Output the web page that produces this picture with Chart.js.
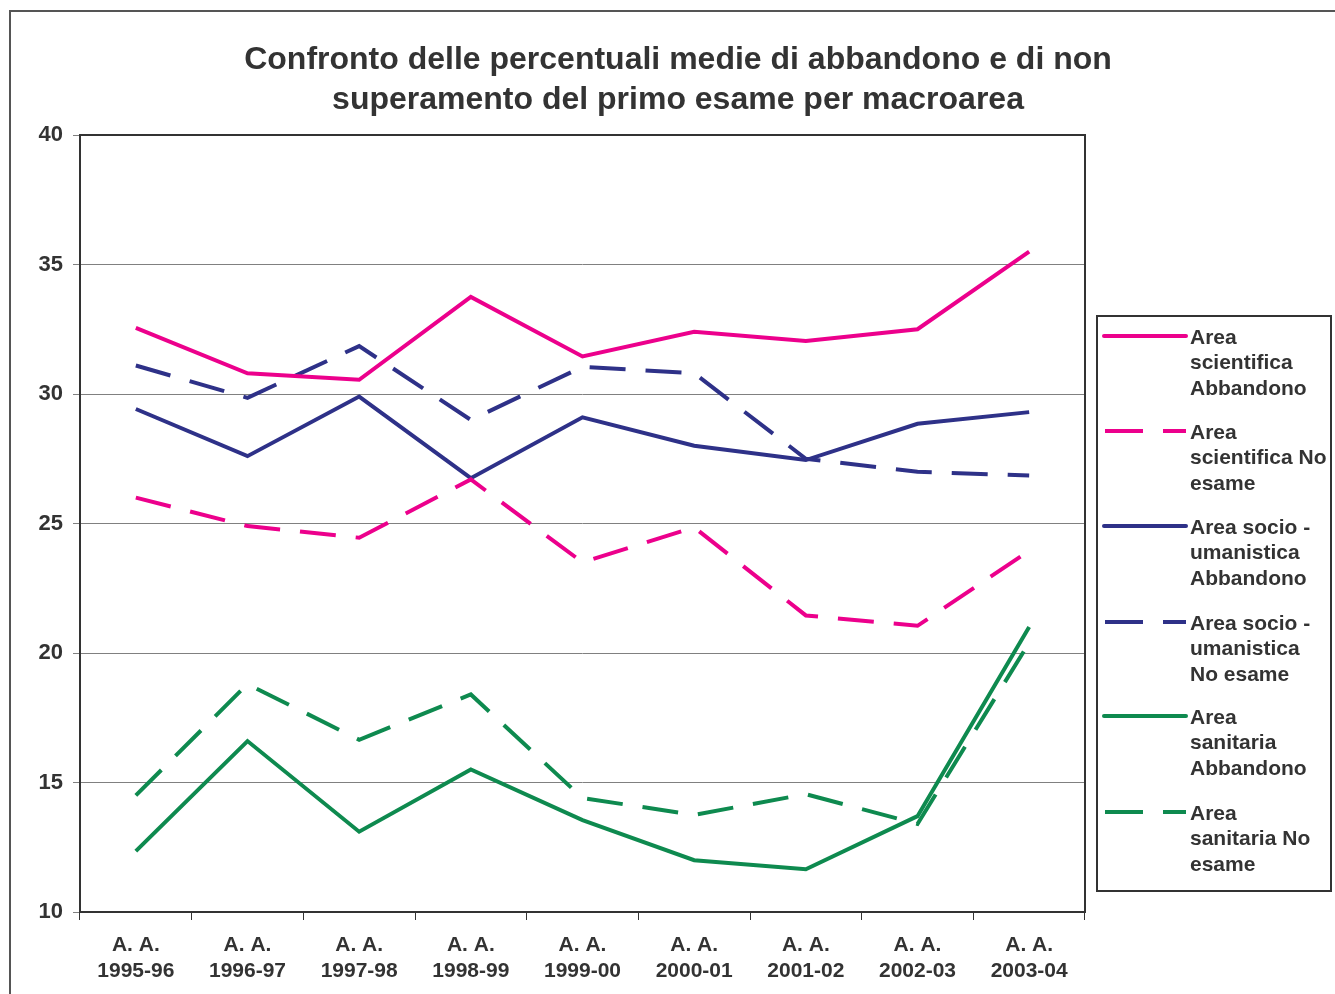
<!DOCTYPE html>
<html><head><meta charset="utf-8">
<script src="https://cdn.jsdelivr.net/npm/chart.js@4.4.1/dist/chart.umd.min.js"></script>
<style>
html,body{margin:0;padding:0;background:#fff;}
#wrap{position:relative;width:1335px;height:994px;}
#frame{position:absolute;left:9px;top:10px;width:1340px;height:1000px;border-top:2px solid #555;border-left:2px solid #555;}
canvas{position:absolute;left:0;top:0;}
</style></head><body>
<div id="wrap"><div id="frame"></div><canvas id="c" width="1335" height="994"></canvas></div>
<script>
const titleLines = ['Confronto delle percentuali medie di abbandono e di non', 'superamento del primo esame per macroarea'];
const categories = [['A. A.','1995-96'],['A. A.','1996-97'],['A. A.','1997-98'],['A. A.','1998-99'],['A. A.','1999-00'],['A. A.','2000-01'],['A. A.','2001-02'],['A. A.','2002-03'],['A. A.','2003-04']];
const seriesNames = [['Area','scientifica','Abbandono'],['Area','scientifica No','esame'],['Area socio -','umanistica','Abbandono'],['Area socio -','umanistica','No esame'],['Area','sanitaria','Abbandono'],['Area','sanitaria No','esame']];
const scientificaAbbandono = [32.55, 30.8, 30.55, 33.75, 31.45, 32.4, 32.05, 32.5, 35.5];
const scientificaNoEsame   = [26.0, 24.9, 24.45, 26.7, 23.5, 24.85, 21.45, 21.05, 23.95];
const socioAbbandono       = [29.42, 27.6, 29.9, 26.75, 29.1, 28.0, 27.45, 28.85, 29.3];
const socioNoEsame         = [31.1, 29.85, 31.85, 29.0, 31.05, 30.8, 27.5, 27.0, 26.85];
const sanitariaAbbandono   = [12.35, 16.6, 13.1, 15.5, 13.55, 12.0, 11.65, 13.7, 21.0];
const sanitariaNoEsame     = [14.5, 18.8, 16.65, 18.4, 14.4, 13.75, 14.55, 13.4, 20.4];
const yMin = 10, yMax = 40, yStep = 5;

const PINK = '#EC008C', NAVY = '#2E3188', GREEN = '#0E8A4F', TXT = '#333333';
const FONT = '"Liberation Sans", Arial, sans-serif';
const DASH = [36, 20];

function ds(label, data, color, dashed) {
  return { label, data, borderColor: color, backgroundColor: color, borderWidth: 4,
    borderDash: dashed ? DASH : [], pointRadius: 0, tension: 0, fill: false };
}

const titlePlugin = {
  id: 'titleDraw',
  afterDraw(chart) {
    const ctx = chart.ctx;
    ctx.save();
    ctx.fillStyle = TXT;
    ctx.font = 'bold 32px ' + FONT;
    ctx.textAlign = 'center';
    ctx.textBaseline = 'middle';
    ctx.fillText(titleLines[0], 678, 60);
    ctx.fillText(titleLines[1], 678, 100);
    ctx.restore();
  }
};

const legendPlugin = {
  id: 'legendDraw',
  afterDraw(chart) {
    const ctx = chart.ctx;
    ctx.save();
    ctx.strokeStyle = '#333';
    ctx.lineWidth = 2;
    ctx.strokeRect(1097, 316, 234, 575);
    const ys = [336, 431, 526, 622, 716, 812];
    chart.data.datasets.forEach((d, i) => {
      const y = ys[i];
      ctx.beginPath();
      ctx.strokeStyle = d.borderColor;
      ctx.lineWidth = 4;
      ctx.lineCap = d.borderDash.length ? 'butt' : 'round';
      ctx.setLineDash(d.borderDash.length ? [38, 20] : []);
      ctx.moveTo(d.borderDash.length ? 1105 : 1104, y);
      ctx.lineTo(1186, y);
      ctx.stroke();
      ctx.setLineDash([]);
      ctx.fillStyle = TXT;
      ctx.font = 'bold 21px ' + FONT;
      ctx.textAlign = 'left';
      ctx.textBaseline = 'middle';
      seriesNames[i].forEach((t, k) => ctx.fillText(t, 1190, y + 2 + k * 25.5));
    });
    ctx.restore();
  }
};

const borderPlugin = {
  id: 'areaBorder',
  afterDatasetsDraw(chart) {
    const a = chart.chartArea, ctx = chart.ctx;
    ctx.save();
    ctx.strokeStyle = '#333';
    ctx.lineWidth = 2;
    ctx.strokeRect(a.left, a.top, a.right - a.left, a.bottom - a.top);
    ctx.restore();
  }
};

new Chart(document.getElementById('c'), {
  type: 'line',
  data: {
    labels: categories,
    datasets: [
      ds(seriesNames[0].join(' '), scientificaAbbandono, PINK, false),
      ds(seriesNames[1].join(' '), scientificaNoEsame, PINK, true),
      ds(seriesNames[2].join(' '), socioAbbandono, NAVY, false),
      ds(seriesNames[3].join(' '), socioNoEsame, NAVY, true),
      ds(seriesNames[4].join(' '), sanitariaAbbandono, GREEN, false),
      ds(seriesNames[5].join(' '), sanitariaNoEsame, GREEN, true)
    ]
  },
  options: {
    responsive: false,
    animation: false,
    layout: { padding: { left: 0, top: 135, right: 250, bottom: 0 } },
    plugins: { legend: { display: false }, title: { display: false }, tooltip: { enabled: false } },
    scales: {
      x: {
        offset: true,
        grid: { offset: true, drawOnChartArea: false, drawTicks: true, tickLength: 8, color: '#333', lineWidth: 1 },
        border: { display: false },
        ticks: { color: TXT, font: { family: FONT, size: 21, weight: 'bold', lineHeight: 1.25 }, padding: 12, maxRotation: 0, autoSkip: false },
        afterFit(s) { s.height = 82; }
      },
      y: {
        min: yMin, max: yMax,
        grid: { color: '#808080', lineWidth: 1, tickLength: 7, drawTicks: true },
        border: { display: false },
        ticks: { stepSize: yStep, color: TXT, font: { family: FONT, size: 22, weight: 'bold' }, padding: 10 },
        afterFit(s) { s.width = 80; }
      }
    }
  },
  plugins: [titlePlugin, legendPlugin, borderPlugin]
});
</script>
</body></html>
